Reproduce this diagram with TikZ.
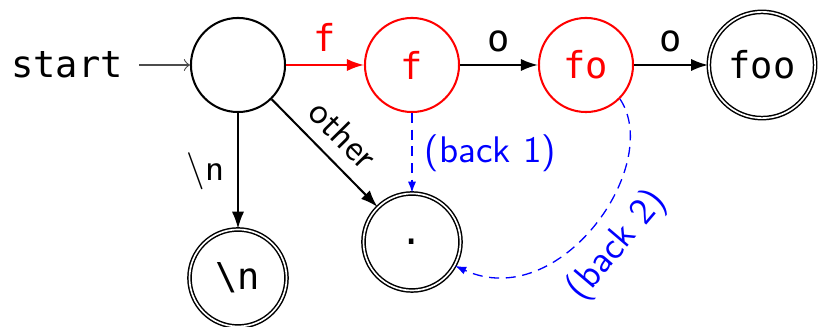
\documentclass[tikz,border=0pt]{standalone}
\usepackage{fontspec}
\newfontfamily\monof{DejaVu Sans Mono}
\usetikzlibrary{arrows.meta}
\begin{document}
\begin{tikzpicture}[x=0.27pt,y=-0.27pt,
 stnode/.style={circle,draw,line width=0.55pt,minimum size=25.4pt,inner sep=0pt,font=\monof\fontsize{10}{12}\selectfont},
 accnode/.style={stnode,line width=0.4pt,double,double distance=0.45pt,minimum size=26.2pt},
 hot/.style={draw=red,text=red},
 edge/.style={line width=0.55pt,-{Latex[length=4.6pt,width=3.3pt]}},
 back/.style={blue,dash pattern=on 2.7pt off 1.8pt,line width=0.35pt,-{Latex[length=3pt,width=2.2pt]}},
 lbl/.style={font=\sffamily\fontsize{10}{12}\selectfont},
 mlbl/.style={font=\monof\fontsize{10}{12}\selectfont}]
\useasboundingbox (0,0) rectangle (821,327);
\node[mlbl, inner xsep=4.3pt] (start) at (67,65) {start};
\node[stnode] (q0) at (238,65) {};
\node[stnode,hot] (qf) at (412,65) {f};
\node[stnode,hot] (qfo) at (586,65) {fo};
\node[accnode,minimum size=28.7pt] (qfoo) at (762,65) {foo};
\node[accnode] (qn) at (238,278) {\textbackslash n};
\node[accnode] (qdot) at (412,242) {.};
\draw[black!70,line width=0.3pt,-to] (start) -- (q0);
\draw[edge,red] (q0) -- node[mlbl,above]{f} (qf);
\draw[edge] (qf) -- node[mlbl,above]{o} (qfo);
\draw[edge] (qfo) -- node[mlbl,above]{o} (qfoo);
\draw[edge] (q0) -- node[lbl,left]{$\backslash$n} (qn);
\draw[edge] (q0) -- node[lbl,above,sloped]{other} (qdot);
\draw[back] (qf) -- node[lbl,right]{(back 1)} (qdot);
\draw[back] (qfo.-45) .. controls +(44,66) and +(105,48) .. node[lbl,pos=0.5,sloped,below]{(back 2)} (qdot.-29);
\end{tikzpicture}
\end{document}
